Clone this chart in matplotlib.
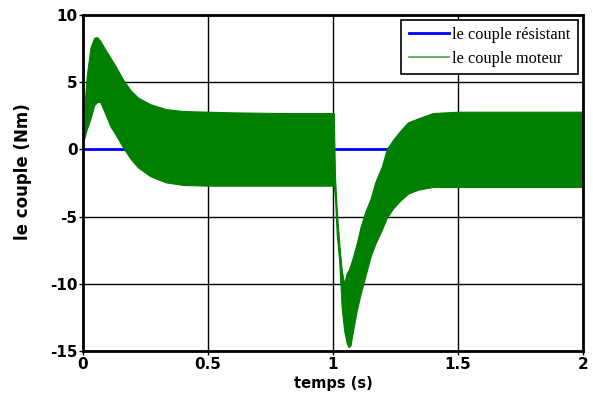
import matplotlib
matplotlib.use("Agg")
import matplotlib.pyplot as plt
from matplotlib.lines import Line2D
import numpy as np

plt.rcParams["axes.unicode_minus"] = False

# load torque (constant zero over the simulation)
t_load = [0.0, 2.0]
load_torque = [0.0, 0.0]

# motor torque: ripple envelope (upper / lower) read at sample instants
t_env = [0.000, 0.005, 0.015, 0.030, 0.045, 0.056, 0.068, 0.090, 0.110, 0.130,
         0.160, 0.190, 0.220, 0.270, 0.330, 0.400, 0.500, 0.600, 0.800, 0.998,
         1.003, 1.008, 1.015, 1.025, 1.035, 1.045, 1.055, 1.062, 1.070, 1.080,
         1.095, 1.110, 1.130, 1.150, 1.170, 1.195, 1.215, 1.240, 1.270, 1.300,
         1.340, 1.400, 1.500, 1.700, 2.000]
torque_upper = [0.6, 3.0, 5.5, 7.6, 8.3, 8.35, 8.1, 7.4, 6.8, 6.2,
                5.2, 4.4, 3.85, 3.35, 3.0, 2.85, 2.8, 2.75, 2.7, 2.7,
                2.7, -2.0, -4.5, -7.0, -9.0, -10.0, -9.2, -9.0, -8.6, -8.0,
                -7.0, -5.8, -4.6, -3.7, -2.4, -1.3, 0.0, 0.7, 1.4, 2.0,
                2.3, 2.7, 2.8, 2.8, 2.8]
torque_lower = [0.6, 0.8, 1.5, 2.3, 3.3, 3.5, 3.55, 2.6, 1.7, 1.1,
                0.15, -0.7, -1.35, -2.0, -2.45, -2.65, -2.7, -2.7, -2.7, -2.7,
                -2.7, -3.5, -6.3, -8.3, -11.8, -13.5, -14.4, -14.7, -14.6, -13.5,
                -12.0, -10.8, -9.4, -8.0, -7.0, -6.0, -5.1, -4.4, -3.8, -3.3,
                -3.0, -2.8, -2.8, -2.8, -2.8]

x_ticks = [0, 0.5, 1, 1.5, 2]
x_tick_labels = ["0", "0.5", "1", "1.5", "2"]
y_ticks = [-15, -10, -5, 0, 5, 10]

GREEN = "#007f00"
BLUE = "#0000ff"

fig = plt.figure(figsize=(5.93, 4.03), dpi=100)
ax = fig.add_axes([0.140, 0.129, 0.843, 0.834])

ax.plot(t_load, load_torque, color=BLUE, linewidth=2.0, zorder=2)
ax.fill_between(t_env, torque_lower, torque_upper, color=GREEN,
                linewidth=0.8, edgecolor=GREEN, zorder=3)

ax.set_xlim(0, 2)
ax.set_ylim(-15, 10)
ax.set_xticks(x_ticks)
ax.set_xticklabels(x_tick_labels)
ax.set_yticks(y_ticks)
ax.grid(True, color="black", linestyle="-", linewidth=1.0)
ax.set_axisbelow(True)

for side in ["top", "bottom", "left", "right"]:
    ax.spines[side].set_linewidth(2.0)
    ax.spines[side].set_color("black")
    ax.spines[side].set_zorder(5)

ax.tick_params(direction="out", length=3, width=1.0, pad=1, labelsize=11)
for lbl in ax.get_xticklabels() + ax.get_yticklabels():
    lbl.set_fontweight("bold")

ax.set_xlabel("temps (s)", fontsize=10.5, fontweight="bold", labelpad=3)
ax.set_ylabel("le couple (Nm)", fontsize=12, fontweight="bold")
ax.yaxis.set_label_coords(-0.103, 0.533)

handles = [
    Line2D([], [], color=BLUE, linewidth=2.0),
    Line2D([], [], color=GREEN, linewidth=1.2, alpha=0.7),
]
leg = ax.legend(handles, ["le couple résistant", "le couple moteur"],
                loc="upper right", bbox_to_anchor=(1.0, 1.0),
                prop={"family": "Liberation Serif", "size": 11.8},
                fancybox=False, framealpha=1.0, edgecolor="black",
                handlelength=2.45, handletextpad=0.2, borderpad=0.45,
                labelspacing=0.45, borderaxespad=0.3)
leg.get_frame().set_linewidth(1.2)
leg.set_zorder(10)

fig.savefig("out.png", dpi=100)
